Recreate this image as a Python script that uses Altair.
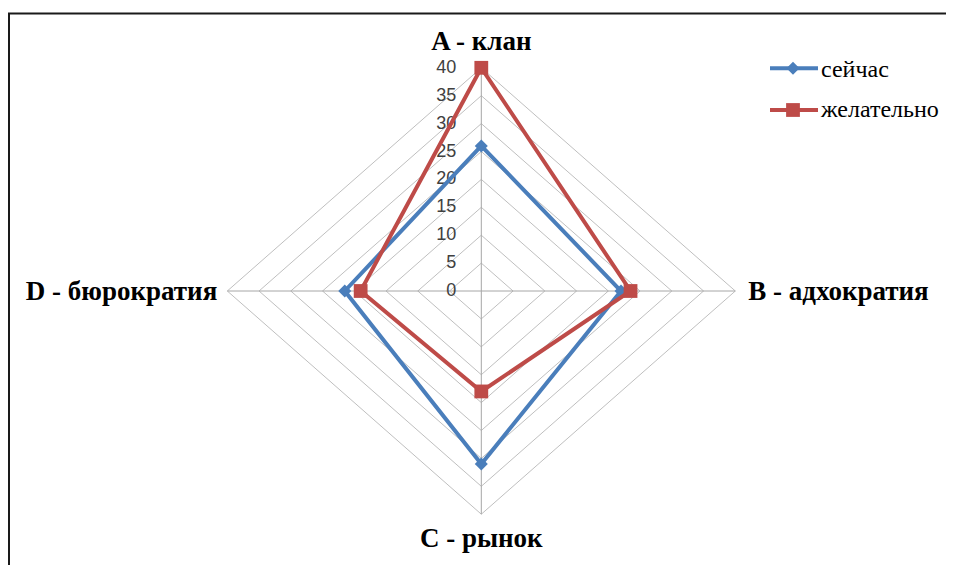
import math
import altair as alt
import pandas as pd

# ---- data ----
categories = ["A - клан", "B - адхократия", "C - рынок", "D - бюрократия"]
angles_deg = [90, 0, -90, 180]
series_names = ["сейчас", "желательно"]
now_values = [26, 22, 31, 21.5]
desired_values = [40, 23.5, 18, 19]
tick_values = [0, 5, 10, 15, 20, 25, 30, 35, 40]
r_max = 40

colors = {"сейчас": "#4A7EBB", "желательно": "#BE4B48"}

def pt(r, ang):
    a = math.radians(ang)
    return r * math.cos(a), r * math.sin(a)

rows = []
for sname, vals in zip(series_names, [now_values, desired_values]):
    for i in range(len(categories) + 1):
        k = i % len(categories)
        x, y = pt(vals[k], angles_deg[k])
        rows.append({"series": sname, "cat": categories[k], "value": vals[k], "x": x, "y": y, "ord": i})
series_df = pd.DataFrame(rows)

grid_rows = []
for t in tick_values[1:]:
    for i in range(len(categories) + 1):
        k = i % len(categories)
        x, y = pt(t, angles_deg[k])
        grid_rows.append({"ring": t, "x": x, "y": y, "ord": i})
grid_df = pd.DataFrame(grid_rows)

spoke_rows = []
for c, a in zip(categories, angles_deg):
    x2, y2 = pt(r_max, a)
    spoke_rows.append({"cat": c, "x": 0.0, "y": 0.0, "x2": x2, "y2": y2})
spoke_df = pd.DataFrame(spoke_rows)

tick_df = pd.DataFrame({"x": [0.0] * len(tick_values), "y": tick_values, "label": [str(t) for t in tick_values]})

lab_rows = []
for c, a in zip(categories, angles_deg):
    x, y = pt(r_max, a)
    lab_rows.append({"cat": c, "x": x, "y": y})
lab_df = pd.DataFrame(lab_rows)

W, H = 939, 558
cx, cy = 473.3, 283.0
sx, sy = 6.35, 5.58
xscale = alt.Scale(domain=[-cx / sx, (W - cx) / sx], nice=False, zero=False)
yscale = alt.Scale(domain=[-(H - cy) / sy, cy / sy], nice=False, zero=False)
X = lambda f="x": alt.X(f"{f}:Q", scale=xscale, axis=None)
Y = lambda f="y": alt.Y(f"{f}:Q", scale=yscale, axis=None)

grid = alt.Chart(grid_df).mark_line(color="#BFBFBF", strokeWidth=1).encode(
    x=X(), y=Y(), detail="ring:N", order="ord:Q"
)
spokes = alt.Chart(spoke_df).mark_rule(color="#A6A6A6", strokeWidth=1).encode(
    x=X(), y=Y(), x2="x2:Q", y2="y2:Q"
)
ticks = alt.Chart(tick_df).mark_text(
    align="right", baseline="middle", dx=-25, font="Liberation Sans", fontSize=18, color="#404040"
).encode(x=X(), y=Y(), text="label:N")

label_specs = {
    "A - клан": dict(align="center", baseline="alphabetic", dx=0, dy=-18),
    "B - адхократия": dict(align="left", baseline="middle", dx=13, dy=1),
    "C - рынок": dict(align="center", baseline="alphabetic", dx=0, dy=33),
    "D - бюрократия": dict(align="right", baseline="middle", dx=-10, dy=1),
}
labels = []
for c in categories:
    spec = label_specs[c]
    labels.append(
        alt.Chart(lab_df).transform_filter(alt.datum.cat == c).mark_text(
            font="Liberation Serif", fontWeight="bold", fontSize=27, color="#000000", **spec
        ).encode(x=X(), y=Y(), text="cat:N")
    )

series_layers = []
shapes = {"сейчас": ("diamond", 170), "желательно": ("square", 190)}
for s in series_names:
    d = alt.Chart(series_df).transform_filter(alt.datum.series == s)
    line = d.mark_line(color=colors[s], strokeWidth=4).encode(x=X(), y=Y(), order="ord:Q")
    shp, size = shapes[s]
    pts = d.transform_filter(alt.datum.ord < 4).mark_point(
        shape=shp, size=size, filled=True, opacity=1, color=colors[s]
    ).encode(x=X(), y=Y(), tooltip=["cat:N", "value:Q"])
    series_layers += [line, pts]

legend_layers = []
leg_pos = {"сейчас": (60.3, 68.7), "желательно": (102.0, 109.3)}
for s in series_names:
    ly, ty = leg_pos[s]
    ld = alt.Chart(pd.DataFrame({"series": [s]}))
    shp, size = shapes[s]
    legend_layers.append(ld.mark_rule(color=colors[s], strokeWidth=4).encode(
        x=alt.value(762), x2=alt.value(810), y=alt.value(ly)))
    legend_layers.append(ld.mark_point(shape=shp, size=size, filled=True, opacity=1, color=colors[s]).encode(
        x=alt.value(785), y=alt.value(ly)))
    legend_layers.append(ld.mark_text(align="left", baseline="alphabetic", font="Liberation Serif",
                                      fontSize=24, color="#000000").encode(
        x=alt.value(813), y=alt.value(ty), text="series:N"))

# border (decoration): top and left edges of the chart frame
bd = alt.Chart(pd.DataFrame({"b": [0]}))
border = [
    bd.mark_rule(color="#1A1A1A", strokeWidth=2).encode(x=alt.value(0), x2=alt.value(W - 1), y=alt.value(5.5)),
    bd.mark_rule(color="#1A1A1A", strokeWidth=2).encode(x=alt.value(1), y=alt.value(5), y2=alt.value(H - 1)),
]

chart = alt.layer(grid, spokes, ticks, *labels, *series_layers, *legend_layers, *border).properties(
    width=W, height=H, padding=0, autosize=alt.AutoSizeParams(type="none")
).configure(background="#FFFFFF").configure_view(stroke="transparent", strokeWidth=0)

chart.save("out.html", embed_options={"renderer": "svg", "actions": False})
